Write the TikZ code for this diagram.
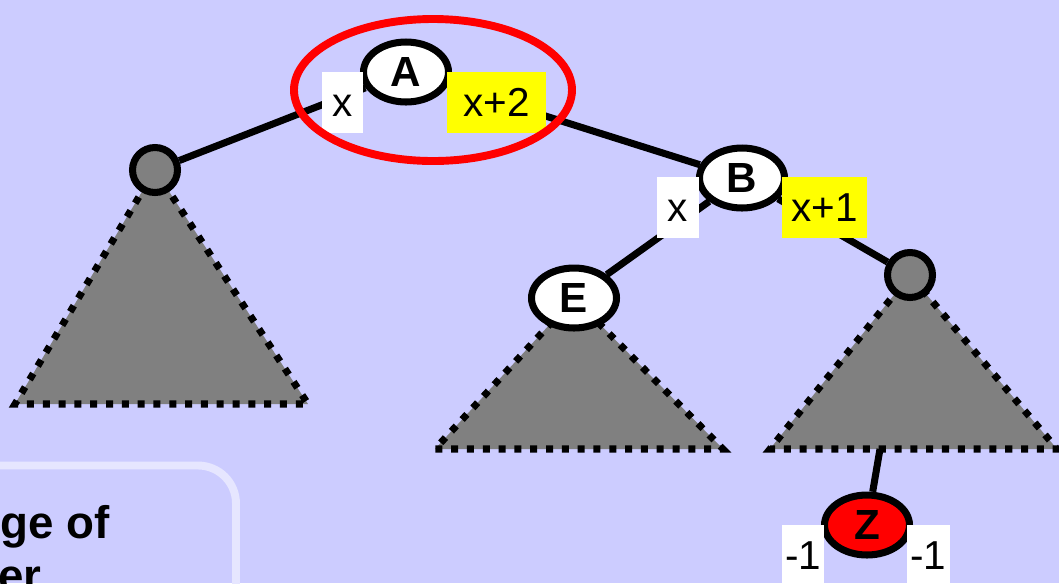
\documentclass[tikz,border=0pt]{standalone}
\usepackage{fontspec}
\setmainfont{Liberation Sans}
\usetikzlibrary{shapes.geometric}
\definecolor{slidebg}{HTML}{CCCCFF}
\definecolor{boxedge}{HTML}{E6E6FF}
\definecolor{hilite}{HTML}{FFFF00}
\pgfdeclarelayer{back}
\pgfdeclarelayer{links}
\pgfsetlayers{back,links,main}

\begin{document}
\begin{tikzpicture}[x=0.02cm,y=-0.02cm,
  tnode/.style={ellipse,draw,line width=4pt,fill=white,minimum width=1.7cm,minimum height=1.2cm,inner sep=0pt,font=\fontsize{24}{24}\selectfont\bfseries},
  stub/.style={circle,draw,line width=4pt,fill=gray,minimum size=0.9cm,inner sep=0pt},
  hgt/.style={fill=white,minimum height=1.22cm,inner sep=0pt,text height=16pt,text depth=0pt,font=\fontsize{23}{23}\selectfont},
  link/.style={line width=4pt},
  subtree/.style={fill=gray,line width=4pt,dash pattern=on 4pt off 5pt}]
  \useasboundingbox (0,0) rectangle (1059,583);
  % Slide background and note box
  \begin{pgfonlayer}{back}
    \fill[slidebg] (0,0) rectangle (1059,583);
    \draw[boxedge,line width=4.5pt,rounded corners=0.76cm] (-60,465.5) rectangle (236,680);
  \end{pgfonlayer}
  \node[anchor=base east,font=\fontsize{26}{26}\selectfont\bfseries,inner sep=0pt] (note1) at (110,538) {ge of};
  \node[anchor=base west,font=\fontsize{26}{26}\selectfont\bfseries,inner sep=0pt] (note2) at (-2,591) {er};
  % Tree nodes
  \node[tnode] (a) at (406,72) {A};
  \node[tnode] (b) at (742,178) {B};
  \node[tnode] (e) at (574,298) {E};
  \node[tnode,fill=red] (z) at (867,525) {Z};
  \node[stub] (lc) at (155,170) {};
  \node[stub] (rc) at (910,275) {};
  % Subtrees and edges
  \begin{pgfonlayer}{links}
    \filldraw[subtree] (lc.center) -- (15,404) -- (308,404) -- cycle;
    \filldraw[subtree] (e.center) -- (435,449) -- (723,449) -- cycle;
    \filldraw[subtree] (rc.center) -- (770,449) -- (1057,449) -- cycle;
    \coordinate (rbase) at (880,449);
    \draw[link] (a) -- (lc);
    \draw[link] (a) -- (b);
    \draw[link] (b) -- (e);
    \draw[link] (b) -- (rc);
    \draw[link] (rbase) -- (z);
  \end{pgfonlayer}
  % Heights
  \node[hgt,minimum width=0.82cm] (ha) at (342.5,102.5) {x};
  \node[hgt,minimum width=1.98cm,fill=hilite] (ha2) at (496.5,102.5) {x+2};
  \node[hgt,minimum width=0.84cm] (hb) at (678,207.5) {x};
  \node[hgt,minimum width=1.7cm,fill=hilite] (hb2) at (824.5,207.5) {x+1};
  \node[hgt,minimum width=0.84cm] (hz) at (803,555.5) {-1};
  \node[hgt,minimum width=0.86cm] (hz2) at (928.5,555.5) {-1};
  % Unbalanced node
  \draw[red,line width=4.5pt] (433,90) ellipse [x radius=139,y radius=71];
\end{tikzpicture}
\end{document}
